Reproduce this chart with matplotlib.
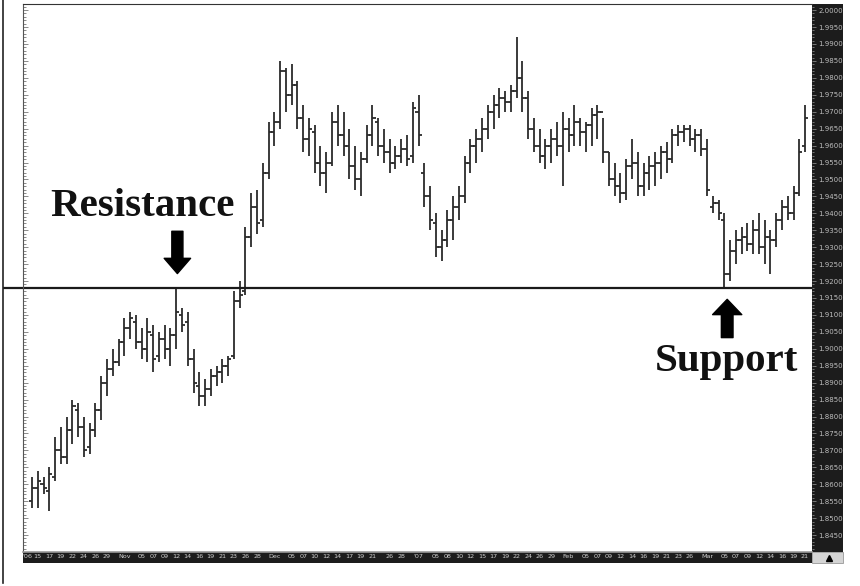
import numpy as np
import pandas as pd
import matplotlib
matplotlib.use('Agg')
import matplotlib.pyplot as plt
from matplotlib.patches import Rectangle
from matplotlib.lines import Line2D

# session calendar (Sunday-Friday sessions, holidays dropped)
start_day = '2006-10-13'
end_day = '2007-03-21'
holidays = ['2006-12-25', '2007-01-01']

opens = [1.855, 1.859, 1.860, 1.858, 1.862, 1.870, 1.868, 1.876, 1.882, 1.877,
         1.871, 1.876, 1.882, 1.890, 1.894, 1.896, 1.902, 1.906, 1.908, 1.902,
         1.900, 1.904, 1.898, 1.903, 1.900, 1.904, 1.910, 1.908, 1.897, 1.889,
         1.886, 1.888, 1.892, 1.893, 1.895, 1.898, 1.914, 1.917, 1.933, 1.942,
         1.938, 1.952, 1.964, 1.967, 1.982, 1.975, 1.978, 1.968, 1.962, 1.964,
         1.955, 1.952, 1.955, 1.967, 1.963, 1.960, 1.954, 1.950, 1.956, 1.963,
         1.967, 1.960, 1.958, 1.955, 1.957, 1.959, 1.957, 1.970, 1.952, 1.945,
         1.937, 1.930, 1.932, 1.938, 1.942, 1.945, 1.955, 1.960, 1.962, 1.965,
         1.970, 1.972, 1.974, 1.973, 1.976, 1.980, 1.974, 1.965, 1.960, 1.957,
         1.960, 1.962, 1.960, 1.965, 1.963, 1.967, 1.964, 1.966, 1.969, 1.970,
         1.958, 1.950, 1.948, 1.946, 1.954, 1.955, 1.948, 1.952, 1.954, 1.955,
         1.958, 1.956, 1.963, 1.964, 1.965, 1.962, 1.963, 1.959, 1.942, 1.943,
         1.938, 1.922, 1.929, 1.932, 1.933, 1.931, 1.935, 1.930, 1.933, 1.932,
         1.938, 1.942, 1.940, 1.946, 1.960]
highs = [1.862, 1.864, 1.862, 1.865, 1.874, 1.877, 1.880, 1.885, 1.884, 1.880,
         1.878, 1.884, 1.892, 1.897, 1.900, 1.903, 1.909, 1.911, 1.910, 1.906,
         1.909, 1.907, 1.905, 1.907, 1.906, 1.918, 1.912, 1.911, 1.900, 1.893,
         1.891, 1.894, 1.895, 1.897, 1.898, 1.917, 1.920, 1.936, 1.946, 1.947,
         1.955, 1.967, 1.970, 1.985, 1.983, 1.984, 1.979, 1.972, 1.968, 1.966,
         1.960, 1.958, 1.970, 1.972, 1.970, 1.965, 1.960, 1.958, 1.966, 1.972,
         1.968, 1.965, 1.962, 1.960, 1.962, 1.963, 1.973, 1.975, 1.955, 1.948,
         1.940, 1.935, 1.941, 1.945, 1.948, 1.957, 1.962, 1.965, 1.968, 1.972,
         1.975, 1.977, 1.976, 1.978, 1.992, 1.985, 1.976, 1.968, 1.965, 1.962,
         1.965, 1.967, 1.970, 1.968, 1.972, 1.968, 1.967, 1.971, 1.972, 1.968,
         1.958, 1.955, 1.952, 1.956, 1.962, 1.958, 1.955, 1.957, 1.958, 1.960,
         1.961, 1.965, 1.966, 1.966, 1.966, 1.965, 1.965, 1.962, 1.945, 1.944,
         1.940, 1.932, 1.935, 1.936, 1.937, 1.938, 1.940, 1.938, 1.935, 1.940,
         1.944, 1.945, 1.948, 1.962, 1.972]
lows = [1.853, 1.853, 1.857, 1.852, 1.861, 1.866, 1.866, 1.872, 1.874, 1.868,
        1.869, 1.874, 1.879, 1.886, 1.892, 1.895, 1.898, 1.903, 1.900, 1.897,
        1.896, 1.893, 1.896, 1.897, 1.895, 1.900, 1.905, 1.895, 1.887, 1.883,
        1.883, 1.886, 1.889, 1.890, 1.892, 1.897, 1.912, 1.916, 1.930, 1.934,
        1.936, 1.950, 1.960, 1.965, 1.970, 1.972, 1.965, 1.958, 1.957, 1.952,
        1.948, 1.946, 1.954, 1.960, 1.957, 1.950, 1.947, 1.945, 1.955, 1.960,
        1.957, 1.955, 1.952, 1.953, 1.955, 1.954, 1.955, 1.960, 1.942, 1.935,
        1.927, 1.926, 1.930, 1.932, 1.938, 1.943, 1.952, 1.955, 1.958, 1.962,
        1.965, 1.968, 1.970, 1.970, 1.974, 1.970, 1.962, 1.958, 1.955, 1.953,
        1.955, 1.957, 1.948, 1.958, 1.960, 1.960, 1.958, 1.960, 1.962, 1.955,
        1.948, 1.945, 1.943, 1.944, 1.950, 1.945, 1.945, 1.947, 1.948, 1.950,
        1.952, 1.955, 1.960, 1.961, 1.960, 1.958, 1.957, 1.945, 1.940, 1.938,
        1.918, 1.920, 1.925, 1.928, 1.929, 1.928, 1.928, 1.925, 1.922, 1.930,
        1.935, 1.938, 1.938, 1.945, 1.958]
closes = [1.859, 1.861, 1.859, 1.863, 1.870, 1.868, 1.876, 1.883, 1.877, 1.870,
          1.876, 1.882, 1.890, 1.894, 1.896, 1.902, 1.906, 1.909, 1.902, 1.900,
          1.905, 1.897, 1.903, 1.900, 1.904, 1.911, 1.907, 1.897, 1.890, 1.886,
          1.888, 1.892, 1.893, 1.895, 1.897, 1.914, 1.916, 1.933, 1.942, 1.937,
          1.952, 1.964, 1.967, 1.982, 1.975, 1.978, 1.968, 1.962, 1.965, 1.955,
          1.952, 1.955, 1.967, 1.963, 1.960, 1.954, 1.950, 1.956, 1.963, 1.968,
          1.960, 1.958, 1.955, 1.957, 1.959, 1.956, 1.971, 1.963, 1.945, 1.938,
          1.930, 1.932, 1.938, 1.942, 1.945, 1.955, 1.960, 1.962, 1.965, 1.970,
          1.972, 1.974, 1.973, 1.976, 1.980, 1.974, 1.965, 1.960, 1.957, 1.960,
          1.962, 1.960, 1.965, 1.963, 1.967, 1.964, 1.966, 1.969, 1.970, 1.958,
          1.950, 1.948, 1.946, 1.954, 1.955, 1.948, 1.952, 1.954, 1.955, 1.958,
          1.956, 1.963, 1.964, 1.965, 1.962, 1.963, 1.959, 1.947, 1.943, 1.940,
          1.922, 1.929, 1.932, 1.933, 1.931, 1.935, 1.930, 1.933, 1.932, 1.938,
          1.942, 1.940, 1.946, 1.958, 1.968]

tick_labels = ["'06", '15', '17', '19', '22', '24', '26', '29',
               'Nov', '05', '07', '09', '12', '14', '16', '19', '21', '23', '26', '28',
               'Dec', '05', '07', '10', '12', '14', '17', '19', '21', '26', '28',
               "'07", '05', '08', '10', '12', '15', '17', '19', '22', '24', '26', '29',
               'Feb', '05', '07', '09', '12', '14', '16', '19', '21', '23', '26',
               'Mar', '05', '07', '09', '12', '14', '16', '19', '21']
month_marks = {"'06": (2006, 10), 'Nov': (2006, 11), 'Dec': (2006, 12),
               "'07": (2007, 1), 'Feb': (2007, 2), 'Mar': (2007, 3)}

level = 1.918   # support / resistance line

# calendar -> bar index
days = pd.date_range(start_day, end_day)
days = days[(days.dayofweek != 5) & ~days.isin(pd.to_datetime(holidays))]
x = np.arange(len(days))

tick_pos = []
cur = None
for lab in tick_labels:
    if lab in month_marks:
        cur = month_marks[lab]
        hit = np.where((days.year == cur[0]) & (days.month == cur[1]))[0]
        tick_pos.append(hit[0])
    else:
        d = pd.Timestamp(cur[0], cur[1], int(lab))
        tick_pos.append(int(np.where(days == d)[0][0]))
tick_pos = np.array(tick_pos, dtype=float)
tick_pos[0] -= 0.8   # first label sits against the left edge

W, H = 860, 586
fig = plt.figure(figsize=(W / 100, H / 100), dpi=100)
fig.patch.set_facecolor('white')

def fx(px):
    return px / W

def fy(py):
    return 1 - py / H

L, R, T, B = 23, 812, 4, 552
ax = fig.add_axes([fx(L), fy(B), fx(R - L), (B - T) / H])

# dark strips for the price scale and the date scale
fig.add_artist(Rectangle((fx(R), fy(B)), fx(843 - R), (B - T) / H,
                         transform=fig.transFigure, facecolor='#1c1c1c',
                         edgecolor='none', zorder=-1))
fig.add_artist(Rectangle((fx(L), fy(563)), fx(R - L), 11 / H,
                         transform=fig.transFigure, facecolor='#1c1c1c',
                         edgecolor='none', zorder=-1))
fig.add_artist(Rectangle((fx(R), fy(563)), fx(843 - R), 11 / H,
                         transform=fig.transFigure, facecolor='#d4d4d4',
                         edgecolor='#888888', lw=0.5, zorder=-1))
fig.add_artist(Line2D([fx(829)], [fy(558)], marker='^', markersize=4,
                      color='black', transform=fig.transFigure))
fig.add_artist(Line2D([fx(3), fx(3)], [fy(0), fy(583)], color='#222222',
                      lw=1.2, transform=fig.transFigure))

# OHLC bars
bar_col = '#2b2b2b'
ax.vlines(x, lows, highs, color=bar_col, lw=1.3)
ax.hlines(opens, x - 0.55, x, color=bar_col, lw=1.3)
ax.hlines(closes, x, x + 0.55, color=bar_col, lw=1.3)

ax.set_xlim(-1.56, 135.2)
ax.set_ylim(1.8400, 2.0018)

# support/resistance line, running out to the left border
ax.plot([-(L - 3) / 5.77 - 1.56, 135.2], [level, level], color='#1a1a1a',
        lw=1.6, clip_on=False, solid_capstyle='butt')

# left edge ticks
major = np.round(np.arange(1.845, 2.0001, 0.005), 4)
minor = np.round(np.arange(1.841, 2.0011, 0.001), 4)
ax.set_yticks(major)
ax.set_yticks(minor, minor=True)
ax.tick_params(axis='y', which='both', left=True, right=False, labelleft=False,
               direction='in', color='#777777', width=0.6)
ax.tick_params(axis='y', which='major', length=3.5)
ax.tick_params(axis='y', which='minor', length=2)

# right price scale
ax2 = ax.twinx()
ax2.set_ylim(ax.get_ylim())
ax2.set_yticks(major)
ax2.set_yticks(minor, minor=True)
ax2.set_yticklabels(['%.4f' % v for v in major])
ax2.tick_params(axis='y', which='both', direction='out', color='#888888',
                width=0.6, labelsize=5, labelcolor='#bdbdbd', pad=1.5)
ax2.tick_params(axis='y', which='major', length=3)
ax2.tick_params(axis='y', which='minor', length=1.5)
for s in ax2.spines.values():
    s.set_visible(False)

# date scale
ax.set_xticks(tick_pos)
ax.set_xticklabels(tick_labels)
ax.tick_params(axis='x', length=0, labelsize=4.6, labelcolor='#cfcfcf', pad=1.6)

ax.spines['right'].set_visible(False)
ax.spines['top'].set_color('#333333')
ax.spines['left'].set_color('#555555')
ax.spines['bottom'].set_color('#9a9a9a')
ax.spines['bottom'].set_linewidth(1.2)

# annotations
serif = ['Liberation Serif', 'DejaVu Serif']
ax.text(19.1, 1.9420, 'Resistance', family=serif, weight='bold', fontsize=29.5,
        ha='center', va='center', color='#111111')
ax.text(120.3, 1.8962, 'Support', family=serif, weight='bold', fontsize=29.5,
        ha='center', va='center', color='#111111')
ax.annotate('', xy=(25.2, 1.9222), xytext=(25.2, 1.9347),
            arrowprops=dict(arrowstyle='simple,head_length=0.55,head_width=0.95,tail_width=0.4',
                            color='black', mutation_scale=20, shrinkA=0, shrinkB=0))
ax.annotate('', xy=(120.5, 1.9146), xytext=(120.5, 1.9033),
            arrowprops=dict(arrowstyle='simple,head_length=0.55,head_width=1.05,tail_width=0.42',
                            color='black', mutation_scale=20, shrinkA=0, shrinkB=0))

fig.savefig('out.png', dpi=100)
